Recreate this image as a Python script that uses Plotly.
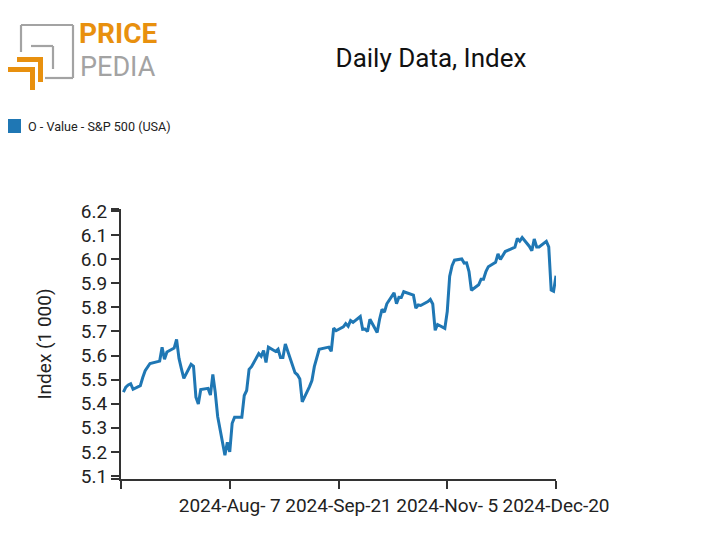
import plotly.graph_objects as go

# ---------------- data ----------------
dates = [
    "2024-06-24", "2024-06-25", "2024-06-26", "2024-06-27", "2024-06-28",
    "2024-07-01", "2024-07-02", "2024-07-03", "2024-07-05", "2024-07-08",
    "2024-07-09", "2024-07-10", "2024-07-11", "2024-07-12", "2024-07-15",
    "2024-07-16", "2024-07-17", "2024-07-18", "2024-07-19", "2024-07-22",
    "2024-07-23", "2024-07-24", "2024-07-25", "2024-07-26", "2024-07-29",
    "2024-07-30", "2024-07-31", "2024-08-01", "2024-08-02", "2024-08-05",
    "2024-08-06", "2024-08-07", "2024-08-08", "2024-08-09", "2024-08-12",
    "2024-08-13", "2024-08-14", "2024-08-15", "2024-08-16", "2024-08-19",
    "2024-08-20", "2024-08-21", "2024-08-22", "2024-08-23", "2024-08-26",
    "2024-08-27", "2024-08-28", "2024-08-29", "2024-08-30", "2024-09-03",
    "2024-09-04", "2024-09-05", "2024-09-06", "2024-09-09", "2024-09-10",
    "2024-09-11", "2024-09-12", "2024-09-13", "2024-09-16", "2024-09-17",
    "2024-09-18", "2024-09-19", "2024-09-20", "2024-09-23", "2024-09-24",
    "2024-09-25", "2024-09-26", "2024-09-27", "2024-09-30", "2024-10-01",
    "2024-10-02", "2024-10-03", "2024-10-04", "2024-10-07", "2024-10-08",
    "2024-10-09", "2024-10-10", "2024-10-11", "2024-10-14", "2024-10-15",
    "2024-10-16", "2024-10-17", "2024-10-18", "2024-10-21", "2024-10-22",
    "2024-10-23", "2024-10-24", "2024-10-25", "2024-10-28", "2024-10-29",
    "2024-10-30", "2024-10-31", "2024-11-01", "2024-11-04", "2024-11-05",
    "2024-11-06", "2024-11-07", "2024-11-08", "2024-11-11", "2024-11-12",
    "2024-11-13", "2024-11-14", "2024-11-15", "2024-11-18", "2024-11-19",
    "2024-11-20", "2024-11-21", "2024-11-22", "2024-11-25", "2024-11-26",
    "2024-11-27", "2024-11-29", "2024-12-02", "2024-12-03", "2024-12-04",
    "2024-12-05", "2024-12-06", "2024-12-09", "2024-12-10", "2024-12-11",
    "2024-12-12", "2024-12-13", "2024-12-16", "2024-12-17", "2024-12-18",
    "2024-12-19", "2024-12-20",
]

values = [
    5.448, 5.469, 5.478, 5.483, 5.460,
    5.475, 5.509, 5.537, 5.567, 5.573,
    5.577, 5.634, 5.585, 5.615, 5.631,
    5.667, 5.588, 5.545, 5.505, 5.564,
    5.556, 5.427, 5.399, 5.459, 5.464,
    5.436, 5.522, 5.447, 5.347, 5.186,
    5.240, 5.200, 5.319, 5.344, 5.344,
    5.434, 5.455, 5.543, 5.554, 5.608,
    5.597, 5.621, 5.571, 5.635, 5.617,
    5.626, 5.592, 5.592, 5.648, 5.529,
    5.520, 5.503, 5.408, 5.471, 5.496,
    5.554, 5.596, 5.626, 5.633, 5.635,
    5.618, 5.714, 5.703, 5.719, 5.733,
    5.722, 5.745, 5.738, 5.762, 5.709,
    5.710, 5.700, 5.751, 5.696, 5.751,
    5.792, 5.780, 5.815, 5.860, 5.815,
    5.842, 5.841, 5.865, 5.854, 5.851,
    5.797, 5.810, 5.808, 5.824, 5.833,
    5.814, 5.705, 5.729, 5.713, 5.783,
    5.929, 5.973, 5.996, 6.001, 5.984,
    5.985, 5.949, 5.871, 5.894, 5.917,
    5.917, 5.949, 5.969, 5.987, 6.022,
    5.999, 6.032, 6.047, 6.050, 6.086,
    6.075, 6.090, 6.053, 6.035, 6.084,
    6.051, 6.051, 6.074, 6.051, 5.872,
    5.867, 5.931,
]

series_name = "O - Value - S&P 500 (USA)"
chart_title = "Daily Data, Index"
y_title = "Index (1 000)"

x_range = ["2024-06-23", "2024-12-20"]
x_tick_dates = ["2024-06-23", "2024-08-07", "2024-09-21", "2024-11-05", "2024-12-20"]
x_tick_labels = ["", "2024-Aug- 7", "2024-Sep-21", "2024-Nov- 5", "2024-Dec-20"]

y_range = [5.0875, 6.2085]
y_tick_values = [5.0876, 5.1, 5.2, 5.3, 5.4, 5.5, 5.6, 5.7, 5.8, 5.9, 6.0, 6.1, 6.2, 6.2084]
y_tick_labels = ["", "5.1", "5.2", "5.3", "5.4", "5.5", "5.6", "5.7", "5.8", "5.9",
                 "6.0", "6.1", "6.2", ""]

# ---------------- figure ----------------
LINE_COLOR = "#1f77b4"
AXIS_COLOR = "#333333"
TEXT_COLOR = "#222222"
ORANGE = "#E8900E"
GREY = "#A3A3A3"
FONT = "Roboto"

# the page body has an 8px margin, so the figure is drawn 8px smaller
OFF = 8
W, H = 712 - OFF, 555 - OFF
# plot area in reference pixels: x 121..556, y 209..479
L = 121 - OFF
T = 209 - OFF
R = W - (556 - OFF)
B = H - (479 - OFF)
PW = W - L - R
PH = H - T - B


def px(X):
    """reference pixel x -> paper x"""
    return (X - OFF - L) / PW


def py(Y):
    """reference pixel y -> paper y"""
    return (T + PH - (Y - OFF)) / PH


fig = go.Figure()
fig.add_trace(go.Scatter(
    x=dates, y=values, mode="lines", name=series_name,
    line=dict(color=LINE_COLOR, width=3), showlegend=False,
))

fig.update_layout(
    width=W, height=H,
    margin=dict(l=L, r=R, t=T, b=B, autoexpand=False),
    paper_bgcolor="white", plot_bgcolor="white",
    font=dict(family=FONT, color=TEXT_COLOR),
    showlegend=False,
    title=dict(text=chart_title, x=(431 - OFF) / W, xanchor="center", xref="container",
               y=1 - (58 - OFF) / H, yanchor="middle", yref="container",
               font=dict(family=FONT, size=26, color="#111111")),
    xaxis=dict(
        type="date", range=x_range,
        tickmode="array", tickvals=x_tick_dates, ticktext=x_tick_labels,
        tickangle=0, ticks="outside", ticklen=8, tickwidth=2, tickcolor=AXIS_COLOR,
        showline=True, linecolor=AXIS_COLOR, linewidth=2,
        showgrid=False, zeroline=False,
        tickfont=dict(family=FONT, size=19, color=TEXT_COLOR),
    ),
    yaxis=dict(
        range=y_range,
        tickmode="array", tickvals=y_tick_values, ticktext=y_tick_labels,
        ticks="outside", ticklen=8, tickwidth=2, tickcolor=AXIS_COLOR,
        showline=True, linecolor=AXIS_COLOR, linewidth=2,
        showgrid=False, zeroline=False,
        tickfont=dict(family=FONT, size=19, color=TEXT_COLOR),
        title=dict(text=y_title, standoff=24,
                   font=dict(family=FONT, size=19, color=TEXT_COLOR)),
    ),
)


def pr(x0, y0, x1, y1, **kw):
    return dict(xref="paper", yref="paper",
                x0=px(x0), x1=px(x1), y0=py(y0), y1=py(y1), **kw)


shapes = []
# legend square
shapes.append(pr(7, 119, 21, 133, type="rect", fillcolor=LINE_COLOR, line=dict(width=0)))

# logo: grey outlines
grey_lines = [
    (21, 25, 73, 25), (73, 25, 73, 78), (73, 78, 45, 78), (21, 25, 21, 52),
    (31, 46, 53, 46), (53, 46, 53, 69),
]
for x0, y0, x1, y1 in grey_lines:
    shapes.append(pr(x0, y0, x1, y1, type="line", line=dict(color=GREY, width=2.2)))

# logo: orange corner marks
orange_rects = [
    (17, 57, 43, 62), (38, 57, 43, 82),
    (8, 67, 35, 72), (30, 67, 35, 90),
]
for x0, y0, x1, y1 in orange_rects:
    shapes.append(pr(x0, y0, x1, y1, type="rect", fillcolor=ORANGE, line=dict(width=0)))

fig.update_layout(shapes=shapes)

annotations = [
    dict(text=series_name, xref="paper", yref="paper",
         x=px(26), y=py(126), xanchor="left", yanchor="middle", showarrow=False,
         font=dict(family=FONT, size=12.6, color=TEXT_COLOR)),
    dict(text="<b>PRICE</b>", xref="paper", yref="paper",
         x=px(77), y=py(33.5), xanchor="left", yanchor="middle", showarrow=False,
         font=dict(family=FONT, size=28, color=ORANGE)),
    dict(text="PEDIA", xref="paper", yref="paper",
         x=px(78), y=py(66.5), xanchor="left", yanchor="middle", showarrow=False,
         font=dict(family=FONT, size=27, color=GREY)),
]
fig.update_layout(annotations=annotations)

fig.write_html("out.html")
